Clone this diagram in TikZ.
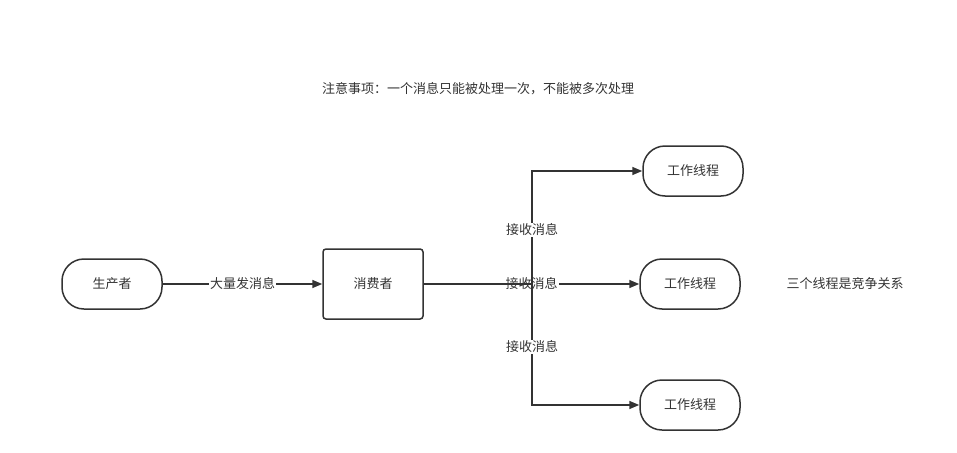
\documentclass[tikz,border=0pt]{standalone}
\usepackage{fontspec}
\setmainfont{Noto Sans CJK SC}
\usetikzlibrary{arrows.meta}
\begin{document}
\begin{tikzpicture}[x=1pt,y=-1pt,
  every node/.style={font=\fontsize{13}{15}\selectfont, text=black!80},
  pill/.style={draw=black!80, line width=1.5pt, rounded corners=22pt, minimum width=100pt, minimum height=50pt, inner sep=0pt},
  boxnode/.style={draw=black!80, line width=1.5pt, rounded corners=3pt, minimum width=100pt, minimum height=70pt, inner sep=0pt},
  conn/.style={draw=black!80, line width=1.5pt, -{Triangle[length=10pt,width=8pt]}},
  lbl/.style={fill=white, inner sep=1pt}]
\useasboundingbox (0,0) rectangle (957,452);
\node[pill] (prod) at (112,284) {生产者};
\node[boxnode] (cons) at (373,284) {消费者};
\node[pill] (w1) at (693,171) {工作线程};
\node[pill] (w2) at (690,284) {工作线程};
\node[pill] (w3) at (690,405) {工作线程};
\node (note) at (478,89) {注意事项：一个消息只能被处理一次，不能被多次处理};
\node (comp) at (845,284) {三个线程是竞争关系};
\draw[conn] (prod) -- node[lbl] {大量发消息} (cons);
\draw[conn] (cons) -- node[lbl, pos=0.5] {接收消息} (w2);
\coordinate (j) at (532,284);
\draw[conn] (cons.east) -- (j) |- node[lbl, pos=0.24] {接收消息} (w1);
\draw[conn] (cons.east) -- (j) |- node[lbl, pos=0.26] {接收消息} (w3);
\end{tikzpicture}
\end{document}
